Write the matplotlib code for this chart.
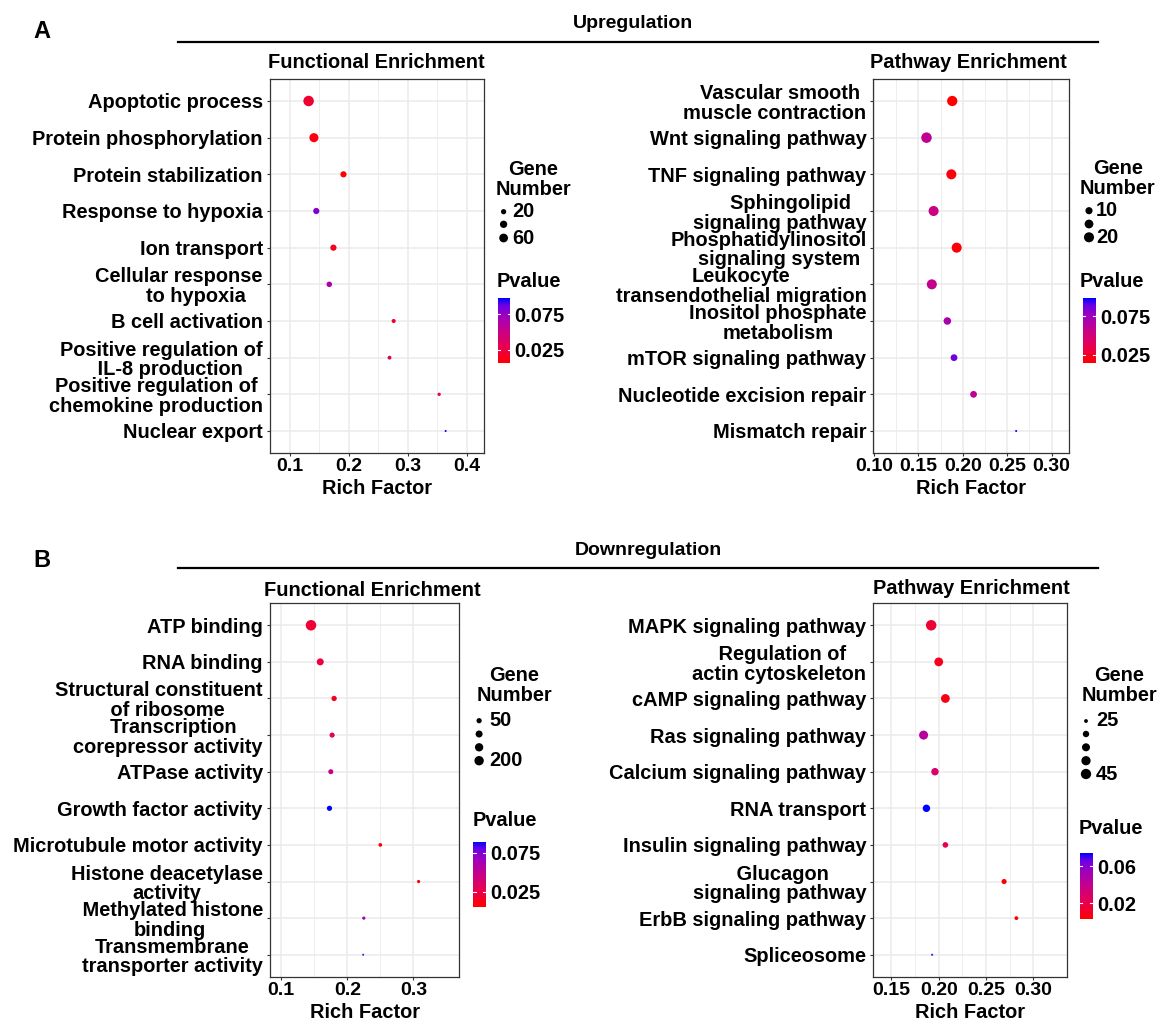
import numpy as np
import matplotlib
matplotlib.use('Agg')
from matplotlib import pyplot as plt
from matplotlib.colors import LinearSegmentedColormap, Normalize
from matplotlib.cm import ScalarMappable

plt.rcParams['font.family'] = ['Liberation Sans', 'DejaVu Sans']
plt.rcParams['font.weight'] = 'bold'

E = '\u00a0'  # espacio duro, para correr un renglón de la etiqueta

### A - Upregulation, Functional Enrichment
upFuncTerms = ['Apoptotic process', 'Protein phosphorylation', 'Protein stabilization',
               'Response to hypoxia', 'Ion transport',
               'Cellular response\n' + E*6 + 'to hypoxia', 'B cell activation',
               'Positive regulation of\n' + E*3 + 'IL-8 production',
               'Positive regulation of\nchemokine production', 'Nuclear export']
upFuncRich = [0.132, 0.141, 0.191, 0.145, 0.174, 0.167, 0.276, 0.269, 0.353, 0.364]
upFuncGenes = [90, 65, 28, 28, 28, 22, 13, 12, 10, 8]
upFuncP = [0.020, 0.010, 0.006, 0.080, 0.015, 0.065, 0.020, 0.035, 0.025, 0.097]

### A - Upregulation, Pathway Enrichment
upPathTerms = [E*2 + 'Vascular smooth\nmuscle contraction', 'Wnt signaling pathway',
               'TNF signaling pathway', E*4 + 'Sphingolipid\nsignaling pathway',
               'Phosphatidylinositol\n' + E*4 + 'signaling system',
               'Leukocyte\ntransendothelial migration', 'Inositol phosphate\nmetabolism',
               'mTOR signaling pathway', 'Nucleotide excision repair', 'Mismatch repair']
upPathRich = [0.188, 0.159, 0.187, 0.167, 0.193, 0.165, 0.1825, 0.190, 0.212, 0.260]
upPathGenes = [21, 22, 20, 20, 20, 20, 11, 9, 9, 3]
upPathP = [0.014, 0.060, 0.018, 0.055, 0.016, 0.058, 0.070, 0.088, 0.060, 0.098]

### B - Downregulation, Functional Enrichment
downFuncTerms = ['ATP binding', 'RNA binding', 'Structural constituent\n' + E*3 + 'of ribosome',
                 E*2 + 'Transcription\ncorepressor activity', 'ATPase activity',
                 'Growth factor activity', 'Microtubule motor activity',
                 'Histone deacetylase\nactivity', E + 'Methylated histone\nbinding',
                 'Transmembrane\ntransporter activity']
downFuncRich = [0.145, 0.159, 0.180, 0.177, 0.175, 0.173, 0.250, 0.308, 0.225, 0.224]
downFuncGenes = [260, 100, 52, 48, 46, 50, 25, 20, 20, 15]
downFuncP = [0.020, 0.022, 0.015, 0.030, 0.050, 0.089, 0.006, 0.008, 0.065, 0.080]

### B - Downregulation, Pathway Enrichment
downPathTerms = ['MAPK signaling pathway', E + 'Regulation of\nactin cytoskeleton',
                 'cAMP signaling pathway', 'Ras signaling pathway', 'Calcium signaling pathway',
                 'RNA transport', 'Insulin signaling pathway', E + 'Glucagon\nsignaling pathway',
                 'ErbB signaling pathway', 'Spliceosome']
downPathRich = [0.192, 0.200, 0.207, 0.184, 0.196, 0.187, 0.207, 0.269, 0.282, 0.193]
downPathGenes = [46, 38, 38, 39, 33, 33, 28, 27, 25, 24]
downPathP = [0.015, 0.010, 0.008, 0.045, 0.030, 0.074, 0.020, 0.004, 0.003, 0.070]

W, H = 1164, 1026
FS = 14.4
LS = 1.05

# rojo -> azul como el gradiente de ggplot
cmap = LinearSegmentedColormap.from_list('pval', [(0, '#FF0000'), (0.25, '#E7004F'), (0.5, '#C80088'),
                                                  (0.75, '#9900C2'), (0.9, '#6600E6'), (1, '#0000FF')])

fig = plt.figure(figsize=(W / 100, H / 100), dpi=100)
ov = fig.add_axes([0, 0, 1, 1])
ov.set_xlim(0, W)
ov.set_ylim(H, 0)
ov.axis('off')


def diam(v, vmin, vmax):
    # diametro en px, el area sigue al numero de genes
    return 2 + 8.5 * np.sqrt((np.asarray(v, float) - vmin) / (vmax - vmin))


def caja(l, t, r, b):
    return [l / W, 1 - b / H, (r - l) / W, (b - t) / H]


def dibuja(rect, terms, rich, genes, pval, xlim, xticks, xlabels, title, title_xy,
           breaks, blabels, gene_xy, dot_x, dot_y, lab_x, cbar, pticks, plabels, pval_xy):
    ax = fig.add_axes(caja(*rect))
    n = len(terms)
    y = np.arange(n)
    norm = Normalize(min(pval), max(pval))
    vmin, vmax = min(genes), max(genes)
    d = diam(genes, vmin, vmax) * 0.72
    ax.scatter(rich, y, s=d**2, c=pval, cmap=cmap, norm=norm, edgecolors='none', zorder=3)
    ax.set_ylim(n - 0.4, -0.6)
    ax.set_xlim(*xlim)
    ax.set_yticks(y)
    ax.set_yticklabels(terms, fontsize=FS, ma='center', linespacing=LS)
    ax.set_xticks(xticks)
    ax.set_xticklabels(xlabels, fontsize=14)
    minors = [(a + b) / 2 for a, b in zip(xticks[:-1], xticks[1:])]
    ax.set_xticks(minors, minor=True)
    ax.grid(True, which='major', color='#EBEBEB', lw=1.1)
    ax.grid(True, which='minor', axis='x', color='#EBEBEB', lw=0.6)
    ax.set_axisbelow(True)
    ax.tick_params(which='major', length=2.2, color='#333333', pad=2.8)
    ax.tick_params(axis='x', which='major', pad=1.5)
    ax.tick_params(which='minor', length=0)
    for sp in ax.spines.values():
        sp.set_color('#333333')
        sp.set_linewidth(0.9)
    ax.set_xlabel('Rich Factor', fontsize=FS, fontweight='bold', labelpad=3)
    ov.text(title_xy[0], title_xy[1], title, fontsize=FS, ha='center', va='baseline')

    # leyenda de tamaño
    ov.text(gene_xy[0], gene_xy[1], 'Gene\nNumber', fontsize=FS, ha='left', va='center',
            ma='center', linespacing=LS)
    bd = diam(breaks, vmin, vmax) * 0.72
    ov.scatter([dot_x] * len(breaks), dot_y, s=bd**2, color='black', edgecolors='none')
    for yy, lab in zip(dot_y, blabels):
        ov.text(lab_x, yy, lab, fontsize=FS, ha='left', va='center')

    # barra de color
    ov.text(pval_xy[0], pval_xy[1], 'Pvalue', fontsize=FS, ha='left', va='center')
    cax = fig.add_axes(caja(*cbar))
    cb = fig.colorbar(ScalarMappable(norm=norm, cmap=cmap), cax=cax, ticks=pticks)
    cb.outline.set_visible(False)
    cax.set_yticklabels(plabels)
    cax.tick_params(length=0, labelsize=FS, pad=3)
    for t in pticks:
        cax.axhline(t, xmin=0, xmax=0.2, color='white', lw=0.8)
        cax.axhline(t, xmin=0.8, xmax=1, color='white', lw=0.8)
    return ax


dibuja((269.8, 79, 484.1, 453), upFuncTerms, upFuncRich, upFuncGenes, upFuncP,
       (0.0663, 0.4291), [0.1, 0.2, 0.3, 0.4], ['0.1', '0.2', '0.3', '0.4'],
       'Functional Enrichment', (376.4, 67.7),
       [20, 40, 60], ['20', '', '60'], (495.6, 179.5), 503.6, [211.7, 224.3, 238], 512,
       (497.5, 298.3, 510.1, 363.3), [0.025, 0.075], ['0.025', '0.075'], (496.4, 281.7))

dibuja((873.4, 79, 1068.8, 453), upPathTerms, upPathRich, upPathGenes, upPathP,
       (0.0992, 0.3193), [0.10, 0.15, 0.20, 0.25, 0.30], ['0.10', '0.15', '0.20', '0.25', '0.30'],
       'Pathway Enrichment', (968.7, 67.7),
       [10, 15, 20], ['10', '', '20'], (1080, 178.3), 1089, [210.7, 224, 237.3], 1096,
       (1082.6, 298.3, 1095.6, 363.3), [0.025, 0.075], ['0.025', '0.075'], (1079.6, 281.7))

dibuja((269.8, 603.3, 459.2, 976.7), downFuncTerms, downFuncRich, downFuncGenes, downFuncP,
       (0.0826, 0.3695), [0.1, 0.2, 0.3], ['0.1', '0.2', '0.3'],
       'Functional Enrichment', (372, 596),
       [50, 100, 150, 200], ['50', '', '', '200'], (476.5, 685.3), 479.1,
       [720.7, 734, 747.3, 760.7], 489.5,
       (473.4, 841.7, 486, 906.7), [0.025, 0.075], ['0.025', '0.075'], (472.6, 820))

dibuja((873.4, 603.3, 1066.6, 976.7), downPathTerms, downPathRich, downPathGenes, downPathP,
       (0.131, 0.335), [0.15, 0.20, 0.25, 0.30], ['0.15', '0.20', '0.25', '0.30'],
       'Pathway Enrichment', (971.5, 594.3),
       [25, 30, 35, 40, 45], ['25', '', '', '', '45'], (1081.5, 685.3), 1086,
       [721, 734, 747.3, 760.7, 774], 1096,
       (1079.6, 853.3, 1092.7, 919), [0.02, 0.06], ['0.02', '0.06'], (1078.9, 828.3))

# encabezados y líneas
ov.text(41.7, 38.3, 'A', fontsize=17, ha='center', va='baseline')
ov.text(41.7, 566.7, 'B', fontsize=17, ha='center', va='baseline')
ov.text(633.5, 28.3, 'Upregulation', fontsize=14, ha='center', va='baseline')
ov.text(648.3, 555, 'Downregulation', fontsize=14, ha='center', va='baseline')
ov.plot([178.3, 1097.5], [42, 42], color='black', lw=1.6)
ov.plot([178.3, 1097.5], [568.3, 568.3], color='black', lw=1.6)

fig.savefig('out.png', dpi=100)
